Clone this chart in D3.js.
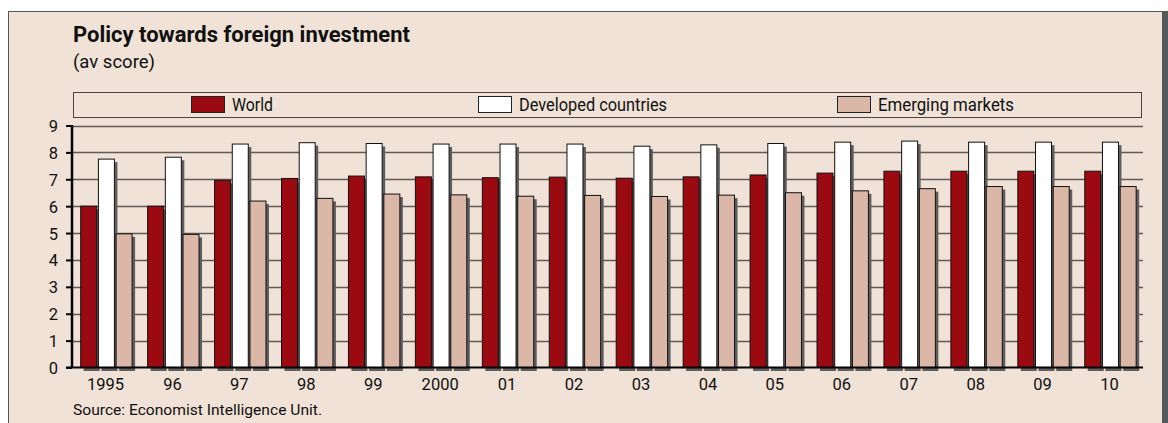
<!DOCTYPE html>
<html><head><meta charset="utf-8">
<script src="https://cdn.jsdelivr.net/npm/d3@7"></script>
<style>
html,body{margin:0;padding:0;background:#fff;}
text{font-family:Roboto,"Open Sans",sans-serif;fill:#111;}
</style></head>
<body><svg id="c" width="1168" height="423"></svg>
<script>
const categories = ["1995","96","97","98","99","2000","01","02","03","04","05","06","07","08","09","10"];
const seriesNames = ["World","Developed countries","Emerging markets"];
const world     = [6.0,6.0,6.96,7.03,7.12,7.09,7.06,7.08,7.04,7.09,7.16,7.23,7.30,7.30,7.30,7.30];
const developed = [7.75,7.82,8.31,8.36,8.33,8.31,8.31,8.31,8.23,8.28,8.33,8.38,8.42,8.38,8.38,8.38];
const emerging  = [4.97,4.95,6.19,6.29,6.45,6.42,6.37,6.40,6.36,6.41,6.50,6.57,6.65,6.73,6.73,6.73];
const yTicks = [0,1,2,3,4,5,6,7,8,9];
const colors = ["#9b0a10","#ffffff","#dbb7a8"];

const svg = d3.select("#c");
// panel
svg.append("rect").attr("x",8.5).attr("y",11.5).attr("width",1154).attr("height",420)
  .attr("fill","#f0e2d6").attr("stroke","#555").attr("stroke-width",1);
svg.append("rect").attr("x",1163).attr("y",11).attr("width",5).attr("height",412).attr("fill","#555a5c");

svg.append("text").attr("x",73).attr("y",42).attr("font-size",21.5).attr("font-weight","bold")
  .attr("textLength",337).attr("lengthAdjust","spacingAndGlyphs").text("Policy towards foreign investment");
svg.append("text").attr("x",73).attr("y",68).attr("font-size",17.5)
  .attr("textLength",82).attr("lengthAdjust","spacingAndGlyphs").text("(av score)");

// legend
svg.append("rect").attr("x",73.5).attr("y",92.5).attr("width",1068).attr("height",25)
  .attr("fill","#f0e2d6").attr("stroke","#4a4440").attr("stroke-width",1);
const legX = [191,478,837];
const legW = [41,148,136];
seriesNames.forEach((n,i)=>{
  svg.append("rect").attr("x",legX[i]+0.5).attr("y",96.5).attr("width",33).attr("height",16)
    .attr("fill",colors[i]).attr("stroke","#222");
  svg.append("text").attr("x",legX[i]+41).attr("y",111).attr("font-size",18)
    .attr("textLength",legW[i]).attr("lengthAdjust","spacingAndGlyphs").text(n);
});

// scales
const x = d3.scaleBand().domain(categories).range([72,1143]).paddingInner(0).paddingOuter(0);
const y = d3.scaleLinear().domain([0,9]).range([367.5,125.5]);
const bw = 16, gap = 1.7, off = 8.7;

// grid
const g = svg.append("g");
g.selectAll("line.grid").data(yTicks.filter(d=>d>0)).join("line")
  .attr("x1",72).attr("x2",1143).attr("y1",d=>Math.round(y(d))+0.5).attr("y2",d=>Math.round(y(d))+0.5)
  .attr("stroke","#625a55").attr("stroke-width",1.4);

const data = categories.map((c,i)=>({c, v:[world[i],developed[i],emerging[i]]}));
const flat = [];
data.forEach(d=>d.v.forEach((v,k)=>flat.push({c:d.c,k,v})));
// shadows
g.selectAll("rect.sh").data(flat).join("rect")
  .attr("x",d=>x(d.c)+off+d.k*(bw+gap)+3).attr("y",d=>y(d.v)+3)
  .attr("width",bw).attr("height",d=>y(0)-y(d.v)+0.5)
  .attr("fill","#5e5e5e");
// bars
g.selectAll("rect.bar").data(flat).join("rect")
  .attr("x",d=>x(d.c)+off+d.k*(bw+gap)).attr("y",d=>y(d.v))
  .attr("width",bw).attr("height",d=>y(0)-y(d.v))
  .attr("fill",d=>colors[d.k]).attr("stroke","#111").attr("stroke-width",1);

// axes
const ya = d3.axisLeft(y).tickValues(yTicks).tickSize(6).tickFormat(d3.format("d"));
const yg = svg.append("g").attr("transform","translate(72,0)").call(ya);
yg.select(".domain").attr("stroke","#000").attr("stroke-width",2.5).attr("d","M0,125V368");
yg.selectAll(".tick line").attr("stroke","#000").attr("stroke-width",2);
yg.selectAll(".tick text").attr("font-size",16.5).attr("x",-14).attr("dy","0.36em").style("font-family","Roboto,'Open Sans',sans-serif").attr("fill","#111");

svg.append("line").attr("x1",66).attr("x2",1143).attr("y1",367.5).attr("y2",367.5).attr("stroke","#000").attr("stroke-width",2);

const xa = d3.axisBottom(x).tickSize(0).tickPadding(10);
const xg = svg.append("g").attr("transform","translate(0,368)").call(xa);
xg.select(".domain").remove();
xg.selectAll(".tick text").attr("font-size",16.5).style("font-family","Roboto,'Open Sans',sans-serif").attr("fill","#111");

svg.append("text").attr("x",73).attr("y",415).attr("font-size",15.5)
  .attr("textLength",249).attr("lengthAdjust","spacingAndGlyphs").text("Source: Economist Intelligence Unit.");
</script></body></html>
